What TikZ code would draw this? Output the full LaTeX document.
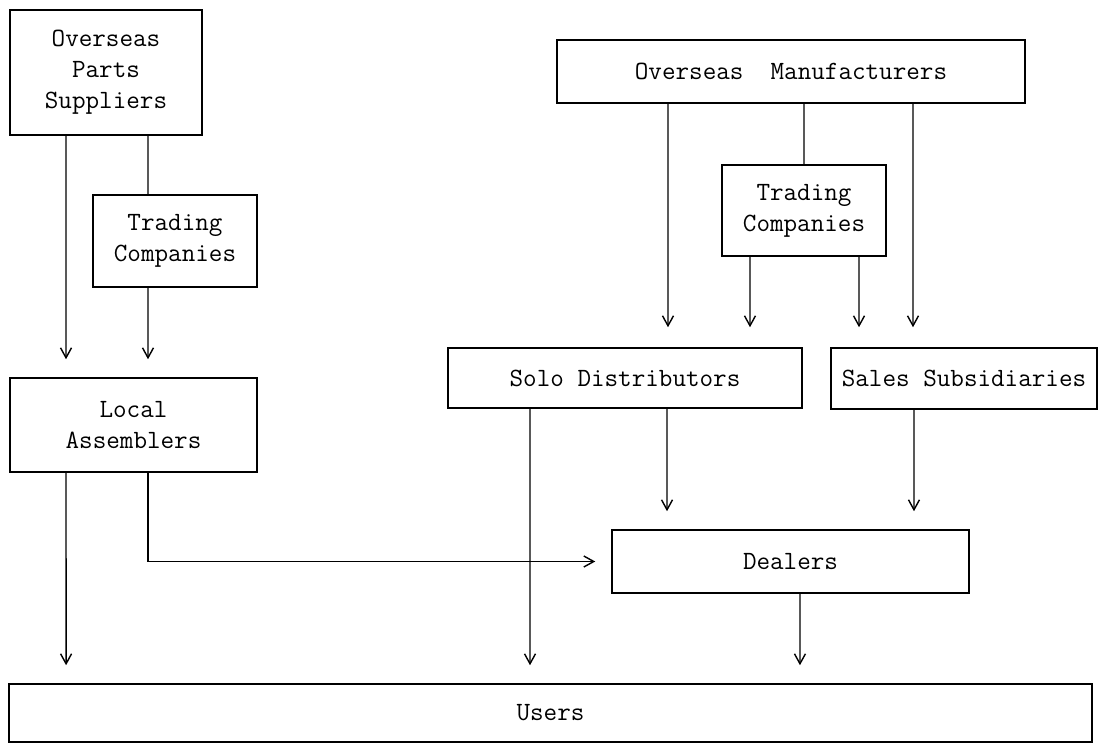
\documentclass[tikz,border=0pt]{standalone}
\usepackage{tikz}
\usetikzlibrary{arrows.meta,positioning}

\begin{document}
\begin{tikzpicture}[x=0.02cm, y=-0.02cm, every node/.style={font=\ttfamily\fontsize{15}{17.6}\selectfont},
    box/.style={draw, rectangle, line width=0.9pt, inner sep=0pt, align=center},
    arr/.style={line width=0.8pt, -{Straight Barb[length=2mm,width=2.2mm]}, shorten >=0.36cm},
    link/.style={line width=0.8pt}]
  \useasboundingbox (0,0) rectangle (1100,745);
  % left column
  \node[box,minimum width=3.84cm,minimum height=2.5cm]  (ops) at (106,72.5)  {Overseas\\Parts\\Suppliers};
  \node[box,minimum width=3.28cm,minimum height=1.84cm] (tcl) at (175,241)   {Trading\\Companies};
  \node[box,minimum width=4.94cm,minimum height=1.88cm] (la)  at (133.5,425) {Local\\Assemblers};
  % right column
  \node[box,minimum width=9.36cm,minimum height=1.26cm] (om)  at (791,71.5)  {Overseas~~Manufacturers};
  \node[box,minimum width=3.28cm,minimum height=1.82cm] (tcr) at (804,210.5) {Trading\\Companies};
  \node[box,minimum width=7.08cm,minimum height=1.2cm]  (sd)  at (625,378)   {Solo Distributors};
  \node[box,minimum width=5.32cm,minimum height=1.22cm] (ss)  at (964,378.5) {Sales Subsidiaries};
  \node[box,minimum width=7.14cm,minimum height=1.26cm] (dl)  at (790.5,561.5) {Dealers};
  \node[box,minimum width=21.66cm,minimum height=1.16cm] (us) at (550.5,713) {Users};

  \draw[arr]  ([xshift=-0.8cm]ops.south) -- ([xshift=-1.35cm]la.north);
  \draw[link] ([xshift=0.84cm]ops.south) -- ([xshift=-0.54cm]tcl.north);
  \draw[arr]  ([xshift=-0.54cm]tcl.south) -- ([xshift=0.29cm]la.north);
  \draw[arr]  ([xshift=-1.35cm]la.south) -- ([xshift=-9.69cm]us.north);
  \draw[arr,shorten >=0.32cm] ([xshift=0.29cm]la.south) |- (dl.west);

  \draw[arr,shorten >=0.4cm] ([xshift=-2.46cm]om.south) -- ([xshift=0.86cm]sd.north);
  \draw[link] ([xshift=0.26cm]om.south) -- (tcr.north);
  \draw[arr,shorten >=0.4cm] ([xshift=-1.08cm]tcr.south) -- ([xshift=2.5cm]sd.north);
  \draw[arr,shorten >=0.4cm] ([xshift=1.1cm]tcr.south) -- ([xshift=-2.1cm]ss.north);
  \draw[arr,shorten >=0.4cm] ([xshift=2.44cm]om.south) -- ([xshift=-1.02cm]ss.north);

  \draw[arr] ([xshift=-1.9cm]sd.south) -- ([xshift=-0.41cm]us.north);
  \draw[arr] ([xshift=0.84cm]sd.south) -- ([xshift=-2.47cm]dl.north);
  \draw[arr] ([xshift=-1cm]ss.south) -- ([xshift=2.47cm]dl.north);
  \draw[arr] ([xshift=0.19cm]dl.south) -- ([xshift=4.99cm]us.north);
\end{tikzpicture}
\end{document}
